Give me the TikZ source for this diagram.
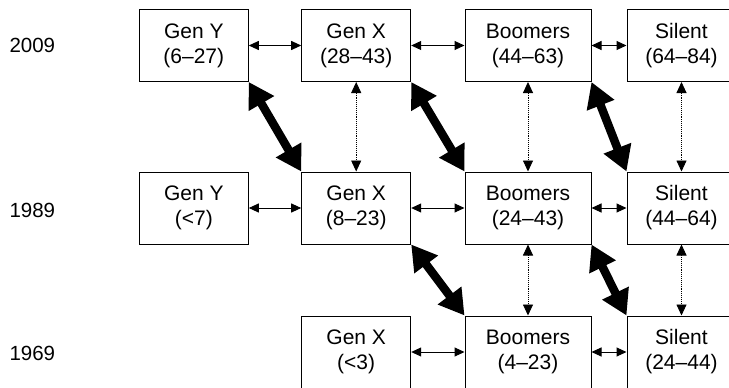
\documentclass[tikz,border=0pt]{standalone}
\usepackage{fontspec}
\setmainfont{Liberation Sans}
\usetikzlibrary{arrows.meta}

\tikzset{
 gen/.style={draw,line width=1pt,minimum width=109pt,minimum height=72pt,inner sep=0pt,align=center,font=\fontsize{21}{25}\selectfont},
 wide/.style={gen,minimum width=126pt},
 year/.style={anchor=west,font=\fontsize{20.5}{24}\selectfont},
 link/.style={{Triangle[length=10pt,width=9pt]}-{Triangle[length=10pt,width=9pt]},line width=1pt},
 same/.style={{Triangle[length=11pt,width=10pt]}-{Triangle[length=11pt,width=10pt]},line width=0.9pt,densely dotted},
 jump/.style={{Triangle[length=25pt,width=28pt]}-{Triangle[length=25pt,width=28pt]},line width=8.5pt}
}

\begin{document}
\begin{tikzpicture}[x=1pt,y=-1pt]
 \useasboundingbox (0,0) rectangle (729,388);
 \clip (0,0) rectangle (729,388);
 \node[year] (t09) at (6,45.5) {2009};
 \node[year] (t89) at (6,210) {1989};
 \node[year] (t69) at (6,353) {1969};
 \node[gen] (y09) at (193.8,45.5) {Gen Y\\(6–27)};
 \node[gen] (x09) at (356.2,45.5) {Gen X\\(28–43)};
 \node[wide] (b09) at (528,45.5) {Boomers\\(44–63)};
 \node[gen] (s09) at (681.5,45.5) {Silent\\(64–84)};
 \node[gen] (y89) at (193.8,208) {Gen Y\\(<7)};
 \node[gen] (x89) at (356.2,208) {Gen X\\(8–23)};
 \node[wide] (b89) at (528,208) {Boomers\\(24–43)};
 \node[gen] (s89) at (681.5,208) {Silent\\(44–64)};
 \node[gen] (x69) at (356.2,352) {Gen X\\(<3)};
 \node[wide] (b69) at (528,352) {Boomers\\(4–23)};
 \node[gen] (s69) at (681.5,352) {Silent\\(24–44)};
 \draw[link] (y09) -- (x09);
 \draw[link] (x09) -- (b09);
 \draw[link] (b09) -- (s09);
 \draw[link] (y89) -- (x89);
 \draw[link] (x89) -- (b89);
 \draw[link] (b89) -- (s89);
 \draw[link] (x69) -- (b69);
 \draw[link] (b69) -- (s69);
 \draw[same] (x09) -- (x89);
 \draw[same] (b09) -- (b89);
 \draw[same] (s09) -- (s89);
 \draw[same] (b89) -- (b69);
 \draw[same] (s89) -- (s69);
 \draw[jump] (y09.south east) -- (x89.north west);
 \draw[jump] (x09.south east) -- (b89.north west);
 \draw[jump] (b09.south east) -- (s89.north west);
 \draw[jump] (x89.south east) -- (b69.north west);
 \draw[jump] (b89.south east) -- (s69.north west);
\end{tikzpicture}
\end{document}
